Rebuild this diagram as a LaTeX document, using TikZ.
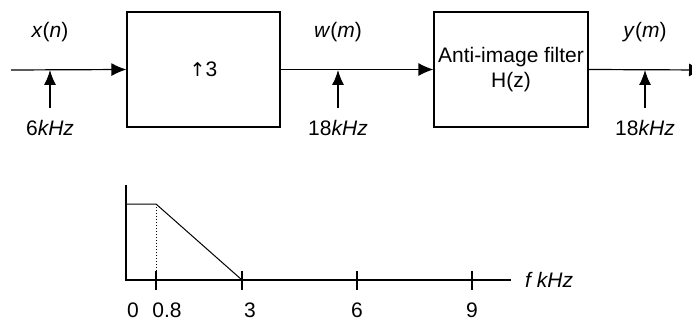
\documentclass[tikz,border=0pt]{standalone}
\usepackage{fontspec}
\setmainfont{Liberation Sans}
\newfontfamily\arrowfont{DejaVu Sans}
\usetikzlibrary{positioning, arrows.meta}

\begin{document}
\begin{tikzpicture}[
    x=1pt, y=-1pt,
    every node/.style={font=\fontsize{21}{25}\selectfont},
    blockbox/.style={
        rectangle, draw, line width=1.2pt,
        minimum width=153pt, minimum height=115pt,
        align=center, inner sep=0pt
    },
    sigline/.style={line width=1.2pt, -{Latex[length=15pt, width=13pt]}},
    rateline/.style={line width=1.2pt, -{Latex[length=15pt, width=12pt]}},
    axisline/.style={line width=1.2pt},
    ticklab/.style={anchor=center}
]

%% ── Frame ──────────────────────────────────────────────────────────
\useasboundingbox (0,0) rectangle (692,326);

%% ── Signal chain ───────────────────────────────────────────────────
\node[blockbox] (upsamp) at (203.5,69.5) {{\arrowfont\fontsize{19}{25}\selectfont ↑}3};
\node[blockbox, minimum width=154pt] (filt) at (511,69.5)
    {Anti-image filter\\H(z)};

\coordinate (sigin)  at (11,70);
\coordinate (sigout) at (704,70);

\draw[sigline] (sigin) -- (upsamp.west);
\draw[sigline] (upsamp.east) -- (filt.west);
\draw[sigline] (filt.east) -- (sigout);

%% Signal names
\node (xn) at (50,32)  {\textit{x}(\textit{n})};
\node (wm) at (338,32) {\textit{w}(\textit{m})};
\node (ym) at (645,32) {\textit{y}(\textit{m})};

%% Sampling rates
\node (rateA) at (50,128)  {6\textit{kHz}};
\node (rateB) at (338,128) {18\textit{kHz}};
\node (rateC) at (645,128) {18\textit{kHz}};

\foreach \px/\nm in {50/A, 338/B, 645/C} {
    \coordinate (foot\nm) at (\px,108);
    \coordinate (tip\nm)  at (\px,70);
    \draw[rateline] (foot\nm) -- (tip\nm);
}

%% ── Frequency response ─────────────────────────────────────────────
\draw[axisline] (126,185) -- (126,280) -- (511,280);
\draw[line width=1pt] (126,204) -- (156,204) -- (242,280);
\draw[line width=1pt, dotted] (156,204) -- (156,280);

\foreach \tx in {156, 242, 357, 472}
    \draw[axisline] (\tx,271) -- (\tx,290);

\node[ticklab] (fz)  at (133,310) {0};
\node[ticklab] (fp8) at (167,310) {0.8};
\node[ticklab] (f3)  at (250,310) {3};
\node[ticklab] (f6)  at (357,310) {6};
\node[ticklab] (f9)  at (472,310) {9};

\node[anchor=west, inner sep=0pt] (faxis) at (525,280) {\textit{f kHz}};

\end{tikzpicture}
\end{document}
